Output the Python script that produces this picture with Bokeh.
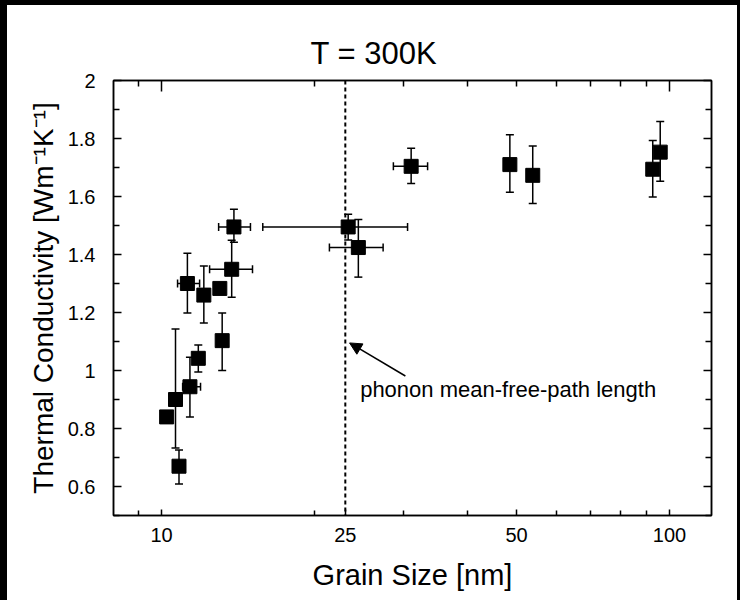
from bokeh.plotting import figure
from bokeh.models import (ColumnDataSource, Whisker, TeeHead, Span, Arrow, NormalHead,
                          Label, FixedTicker, LinearAxis, LogAxis, Range1d, Column)
from bokeh.embed import file_html
from bokeh.resources import INLINE

# ---- data ----
grain_size = [10.23, 10.65, 10.82, 11.24, 11.37, 11.81, 12.11, 13.02, 13.16, 13.74, 13.88,
              23.3, 24.4, 31.0, 48.5, 53.8, 92.7, 95.9]
conductivity = [0.84, 0.90, 0.67, 1.30, 0.944, 1.042, 1.26, 1.283, 1.103, 1.349, 1.495,
                1.495, 1.424, 1.704, 1.71, 1.673, 1.694, 1.753]

# vertical error bars (x, lower, upper)
yerr_x = [10.65, 10.82, 11.24, 11.37, 11.81, 12.11, 13.16, 13.74, 13.88,
          23.3, 24.4, 31.0, 48.5, 53.8, 92.7, 95.9]
yerr_lo = [0.733, 0.609, 1.198, 0.84, 0.995, 1.164, 1.0, 1.253, 1.442,
           1.45, 1.322, 1.645, 1.615, 1.576, 1.598, 1.653]
yerr_hi = [1.143, 0.726, 1.404, 1.046, 1.088, 1.36, 1.198, 1.449, 1.556,
           1.539, 1.521, 1.766, 1.813, 1.774, 1.793, 1.859]

# horizontal error bars (y, lower, upper)
xerr_y = [1.30, 0.944, 1.349, 1.495, 1.495, 1.424, 1.704]
xerr_lo = [10.75, 11.0, 12.43, 12.95, 15.82, 21.4, 28.6]
xerr_hi = [11.88, 11.93, 15.1, 14.96, 30.5, 27.3, 33.4]

mfp_length = 23.0
x_tick_values = [10, 23, 50, 100]
x_tick_labels = ["10", "25", "50", "100"]
x_minor = [9, 20, 30, 40, 60, 70, 80, 90]
y_tick_values = [0.6, 0.8, 1.0, 1.2, 1.4, 1.6, 1.8, 2.0]
y_tick_labels = ["0.6", "0.8", "1", "1.2", "1.4", "1.6", "1.8", "2"]
y_minor = [0.5, 0.7, 0.9, 1.1, 1.3, 1.5, 1.7, 1.9]

FONT = "Liberation Sans"

p = figure(width=730, height=595, x_axis_type="log",
           x_range=Range1d(8.04, 121), y_range=Range1d(0.5, 2.0),
           output_backend="svg", toolbar_location=None,
           min_border_left=106, min_border_right=26, min_border_top=75, min_border_bottom=85,
           title="T = 300K")
p.title.text_font = FONT
p.title.text_font_size = "31px"
p.title.text_font_style = "normal"
p.title.text_color = "black"
p.title.align = "left"
p.title.offset = 197
p.title.standoff = 19
p.grid.visible = False
p.outline_line_color = "black"
p.outline_line_width = 1.5
p.background_fill_color = "white"
p.border_fill_color = "white"

# bottom axis
xa = p.xaxis[0]
xa.ticker = FixedTicker(ticks=x_tick_values, minor_ticks=x_minor)
xa.major_label_overrides = {v: l for v, l in zip(x_tick_values, x_tick_labels)}
xa.axis_label = "Grain Size [nm]"
# left axis
ya = p.yaxis[0]
ya.ticker = FixedTicker(ticks=y_tick_values, minor_ticks=y_minor)
ya.major_label_overrides = {v: l for v, l in zip(y_tick_values, y_tick_labels)}
ya.axis_label = "Thermal Conductivity [Wm\u207b\u00b9K\u207b\u00b9]"

top = LogAxis(ticker=FixedTicker(ticks=[10, 100], minor_ticks=[9, 20, 30, 40, 50, 60, 70, 80, 90]))
right = LinearAxis(ticker=FixedTicker(ticks=y_tick_values, minor_ticks=y_minor))
p.add_layout(top, "above")
p.add_layout(right, "right")

for ax in [xa, ya, top, right]:
    ax.axis_line_color = "black"
    ax.axis_line_width = 1.5
    ax.major_tick_out = 0
    ax.minor_tick_out = 0
    ax.major_tick_in = 8
    ax.minor_tick_in = 6
    ax.major_tick_line_width = 1.5
    ax.minor_tick_line_width = 1.5
    ax.major_label_text_font = FONT
    ax.axis_label_text_font = FONT
    ax.axis_label_text_font_style = "normal"
    ax.major_label_text_color = "black"
    ax.axis_label_text_color = "black"

for ax in [top, right]:
    ax.major_label_text_alpha = 0
    ax.major_label_text_font_size = "8px"
    ax.major_label_standoff = 0

top.major_tick_in = 11
xa.major_tick_in = 6
xa.minor_tick_in = 5
xa.major_label_text_font_size = "20px"
xa.major_label_standoff = 12
xa.axis_label_text_font_size = "29px"
xa.axis_label_standoff = 14
ya.major_label_text_font_size = "20px"
ya.major_label_standoff = 18
ya.axis_label_text_font_size = "28px"
ya.axis_label_standoff = 6

# dashed line at phonon mean free path
p.add_layout(Span(location=mfp_length, dimension="height", line_color="black",
                  line_dash="4 3", line_width=2))

# error bars
ysrc = ColumnDataSource(dict(x=yerr_x, lo=yerr_lo, hi=yerr_hi))
p.add_layout(Whisker(source=ysrc, base="x", lower="lo", upper="hi", dimension="height",
                     line_color="black", line_width=1.5,
                     upper_head=TeeHead(size=8, line_color="black", line_width=1.5),
                     lower_head=TeeHead(size=8, line_color="black", line_width=1.5)))
xsrc = ColumnDataSource(dict(y=xerr_y, lo=xerr_lo, hi=xerr_hi))
p.add_layout(Whisker(source=xsrc, base="y", lower="lo", upper="hi", dimension="width",
                     line_color="black", line_width=1.5,
                     upper_head=TeeHead(size=8, line_color="black", line_width=1.5),
                     lower_head=TeeHead(size=8, line_color="black", line_width=1.5)))

# data points
src = ColumnDataSource(dict(x=grain_size, y=conductivity))
p.scatter("x", "y", source=src, marker="square", size=14, color="black")

# annotation
p.add_layout(Arrow(x_start=30.2, y_start=0.981, x_end=23.45, y_end=1.095,
                   line_color="black", line_width=1.5,
                   end=NormalHead(size=12, fill_color="black", line_color="black")))
p.add_layout(Label(x=24.6, y=0.933, text="phonon mean-free-path length",
                   text_font=FONT, text_font_size="22px", text_baseline="middle",
                   text_color="black"))

layout = Column(p, styles={"border-left": "7px solid black", "border-top": "5px solid black",
                           "border-right": "3px solid black"})

open("out.html", "w").write(file_html(layout, INLINE))
